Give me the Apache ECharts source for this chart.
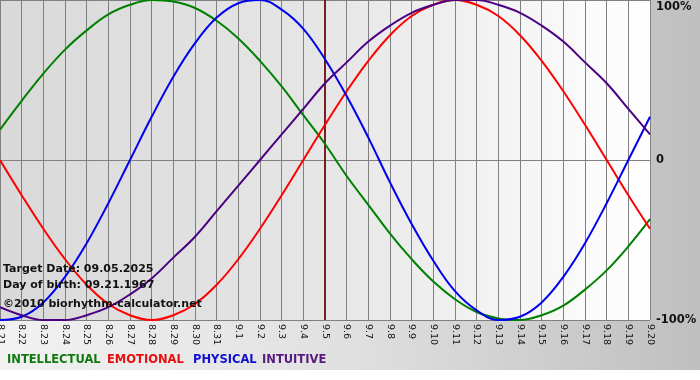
<!DOCTYPE html>
<html>
<head>
<meta charset="utf-8">
<script src="https://cdn.jsdelivr.net/npm/echarts@6/dist/echarts.min.js"></script>
<style>html,body{margin:0;padding:0;background:#fff}#c{width:700px;height:380px}</style>
</head>
<body>
<div id="c"></div>
<script>
const days = ['8.21','8.22','8.23','8.24','8.25','8.26','8.27','8.28','8.29','8.30','8.31','9.1','9.2','9.3','9.4','9.5','9.6','9.7','9.8','9.9','9.10','9.11','9.12','9.13','9.14','9.15','9.16','9.17','9.18','9.19','9.20'];
const intellectual = [19,37,54,69,81,91,97,100,99,95,87,76,62,46,28,10,-10,-28,-46,-62,-76,-87,-95,-99,-100,-97,-91,-81,-69,-54,-37];
const emotional = [0,-22,-43,-62,-78,-90,-97,-100,-97,-90,-78,-62,-43,-22,0,22,43,62,78,90,97,100,97,90,78,62,43,22,0,-22,-43];
const physical = [-100,-98,-89,-73,-52,-27,0,27,52,73,89,98,100,94,82,63,40,14,-14,-40,-63,-82,-94,-100,-98,-89,-73,-52,-27,0,27];
const intuitive = [-92,-97,-100,-100,-97,-92,-84,-74,-61,-48,-32,-16,0,16,32,48,61,74,84,92,97,100,100,97,92,84,74,61,48,32,16];
const targetDay = '9.5';
const yTicks = {'100':'100%','0':'0','-100':'-100%'};

const chart = echarts.init(document.getElementById('c'));
const mk = (name, data, color) => ({
  name, type:'line', data, smooth:0.4, showSymbol:false, symbol:'none',
  lineStyle:{color, width:2}, itemStyle:{color}, z:5
});
const series = [
  mk('INTELLECTUAL', intellectual, '#008000'),
  mk('EMOTIONAL', emotional, '#ff0000'),
  mk('PHYSICAL', physical, '#0000ee'),
  mk('INTUITIVE', intuitive, '#4b0082')
];
series[0].markLine = {
  silent:true, symbol:'none', label:{show:false},
  lineStyle:{color:'#7a1f1f', width:2, type:'solid'},
  data:[{xAxis: targetDay}]
};
const font = 'DejaVu Sans, Verdana, sans-serif';
chart.setOption({
  animation:false,
  backgroundColor:'#ffffff',
  grid:{left:0, right:50, top:0, height:320, show:true, borderWidth:0, outerBoundsMode:'none', containLabel:false,
    backgroundColor:{type:'linear',x:0,y:0,x2:1,y2:0,colorStops:[{offset:0,color:'#d9d9d9'},{offset:0.5,color:'#e6e6e6'},{offset:1,color:'#ffffff'}]}},
  xAxis:{type:'category', data:days, boundaryGap:false,
    axisLine:{show:true, lineStyle:{color:'#808080'}},
    axisTick:{show:true, length:3, lineStyle:{color:'#808080'}},
    splitLine:{show:true, lineStyle:{color:'#808080', width:1}},
    axisLabel:{rotate:-90, interval:0, fontSize:9.5, fontFamily:font, color:'#111', margin:4}},
  yAxis:{type:'value', position:'right', min:-100, max:100, interval:100,
    axisLine:{show:false}, axisTick:{show:false},
    splitLine:{show:true, lineStyle:{color:'#808080', width:1}},
    axisLabel:{margin:6, fontSize:11.5, fontWeight:'bold', fontFamily:font, color:'#111',
      formatter:(v)=> v===100 ? '{t|100%}' : (yTicks[String(v)]),
      rich:{t:{fontSize:11.5, fontWeight:'bold', fontFamily:font, color:'#111', padding:[14,0,0,0]}}}},
  series,
  graphic:[
    {type:'rect', z:-10, silent:true, shape:{x:0,y:0,width:700,height:370},
      style:{fill:{type:'linear',x:0,y:0,x2:1,y2:0,colorStops:[{offset:0,color:'#f2f2f2'},{offset:0.5,color:'#e0e0e0'},{offset:1,color:'#bfbfbf'}]}}},
    {type:'text', z:100, left:3, top:264, style:{text:'Target Date: 09.05.2025', font:'bold 11px '+font, fill:'#111'}},
    {type:'text', z:100, left:3, top:280, style:{text:'Day of birth: 09.21.1967', font:'bold 11px '+font, fill:'#111'}},
    {type:'text', z:100, left:3, top:299, style:{text:'©2010 biorhythm-calculator.net', font:'bold 11px '+font, fill:'#111'}},
    {type:'text', z:100, left:7, top:354, style:{text:'INTELLECTUAL', font:'bold 11.5px '+font, fill:'#107a10'}},
    {type:'text', z:100, left:107, top:354, style:{text:'EMOTIONAL', font:'bold 11.5px '+font, fill:'#e81010'}},
    {type:'text', z:100, left:193, top:354, style:{text:'PHYSICAL', font:'bold 11.5px '+font, fill:'#1010d0'}},
    {type:'text', z:100, left:262, top:354, style:{text:'INTUITIVE', font:'bold 11.5px '+font, fill:'#561a80'}}
  ]
});
</script>
</body>
</html>
